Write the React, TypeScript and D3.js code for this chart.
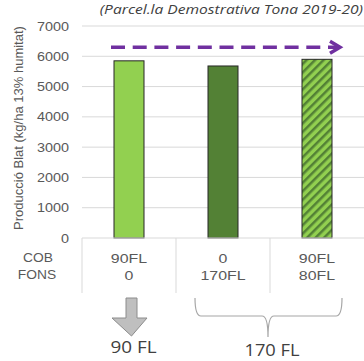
import React from "react";
import * as d3 from "d3";

const categories = ["A", "B", "C"];
const values = [5850, 5680, 5900];
const cobLabels = ["90FL", "0", "90FL"];
const fonsLabels = ["0", "170FL", "80FL"];
const rowNames = ["COB", "FONS"];
const yTicks = [0, 1000, 2000, 3000, 4000, 5000, 6000, 7000];
const title = "(Parcel.la Demostrativa Tona 2019-20)";
const yTitle = "Producció Blat (kg/ha 13% humitat)";
const totals = ["90 FL", "170 FL"];
const arrowLevel = 6300;

type TProps = { x: number; y: number; sx?: number; anchor?: string; size: number; family: string; fill: string; italic?: boolean; children: React.ReactNode };
function T({ x, y, sx = 1.18, anchor = "middle", size, family, fill, italic, children }: TProps) {
  return (
    <text transform={`translate(${x},${y}) scale(${sx},1)`} textAnchor={anchor} fontFamily={family} fontSize={size} fill={fill} fontStyle={italic ? "italic" : "normal"}>
      {children}
    </text>
  );
}

export default function App() {
  const W = 364, H = 361;
  const left = 82, right = 364, top = 26, bottom = 238;
  const x = d3.scaleBand().domain(categories).range([left, right]).paddingInner(0).paddingOuter(0);
  const y = d3.scaleLinear().domain([0, 7000]).range([bottom, top]);
  const bw = 30;
  const fills = ["#92D050", "#538135", "url(#hatch)"];
  const gray = "#595959";
  const font = "Liberation Sans, Arial, sans-serif";
  const ofont = "Open Sans, sans-serif";
  const cx = (c: string) => (x(c) as number) + x.bandwidth() / 2;
  const ay = y(arrowLevel);
  return (
    <svg width={W} height={H} style={{ position: "absolute", left: 0, top: 0 }}>
      <defs>
        <pattern id="hatch" patternUnits="userSpaceOnUse" width="6" height="6" patternTransform="rotate(-45)">
          <rect width="6" height="6" fill="#92D050" />
          <rect width="6" height="2.5" fill="#538135" />
        </pattern>
      </defs>
      <rect width={W} height={H} fill="#fff" />
      <T x={363} y={14} anchor="end" size={13} sx={1.2} family={ofont} fill="#404040" italic>{title}</T>
      {yTicks.map((t) => (
        <g key={t}>
          {t > 0 && <line x1={left} x2={right} y1={y(t)} y2={y(t)} stroke="#D9D9D9" strokeWidth={1} />}
          <T x={69} y={y(t) + 4.5} anchor="end" size={12} sx={1.2} family={font} fill={gray}>{t}</T>
        </g>
      ))}
      <text transform={`translate(23,128) rotate(-90)`} textAnchor="middle" fontFamily={font} fontSize={13} fill={gray}>{yTitle}</text>
      {categories.map((c, i) => (
        <rect key={c} x={cx(c) - bw / 2} y={y(values[i])} width={bw} height={bottom - y(values[i])} fill={fills[i]} stroke="#262626" strokeWidth={1} />
      ))}
      <line x1={left} x2={right} y1={bottom} y2={bottom} stroke="#D9D9D9" />
      {[left, ...categories.slice(1).map((c) => x(c) as number)].map((v, i) => (
        <line key={i} x1={v} x2={v} y1={bottom} y2={293} stroke="#D9D9D9" />
      ))}
      <T x={38} y={262} size={12} sx={1.15} family={font} fill={gray}>{rowNames[0]}</T>
      <T x={37} y={279} size={12} sx={1.15} family={font} fill={gray}>{rowNames[1]}</T>
      {categories.map((c, i) => (
        <g key={c}>
          <T x={cx(c)} y={262.5} size={13.5} sx={1.18} family={font} fill={gray}>{cobLabels[i]}</T>
          <T x={cx(c)} y={279.5} size={13.5} sx={1.18} family={font} fill={gray}>{fonsLabels[i]}</T>
        </g>
      ))}
      <line x1={111} x2={338} y1={ay} y2={ay} stroke="#7030A0" strokeWidth={3.5} strokeDasharray="14,7.7" />
      <path d={`M${330},${ay - 6} L${340},${ay} L${330},${ay + 6}`} fill="none" stroke="#7030A0" strokeWidth={3.5} />
      <path d="M126,298 L137,298 L137,318 L147,318 L131.5,336 L112,318 L126,318 Z" fill="#BFBFBF" stroke="#8C8C8C" strokeWidth={1} />
      <T x={133.5} y={353} size={16} sx={1.18} family={ofont} fill="#404040">{totals[0]}</T>
      <path d="M195,298 Q195,316 201,316 L262,316 Q268,316 268,337 Q268,316 274,316 L336,316 Q342,316 342,298" fill="none" stroke="#A6A6A6" strokeWidth={1.2} />
      <T x={272} y={356} size={15.5} sx={1.18} family={ofont} fill="#404040">{totals[1]}</T>
    </svg>
  );
}
